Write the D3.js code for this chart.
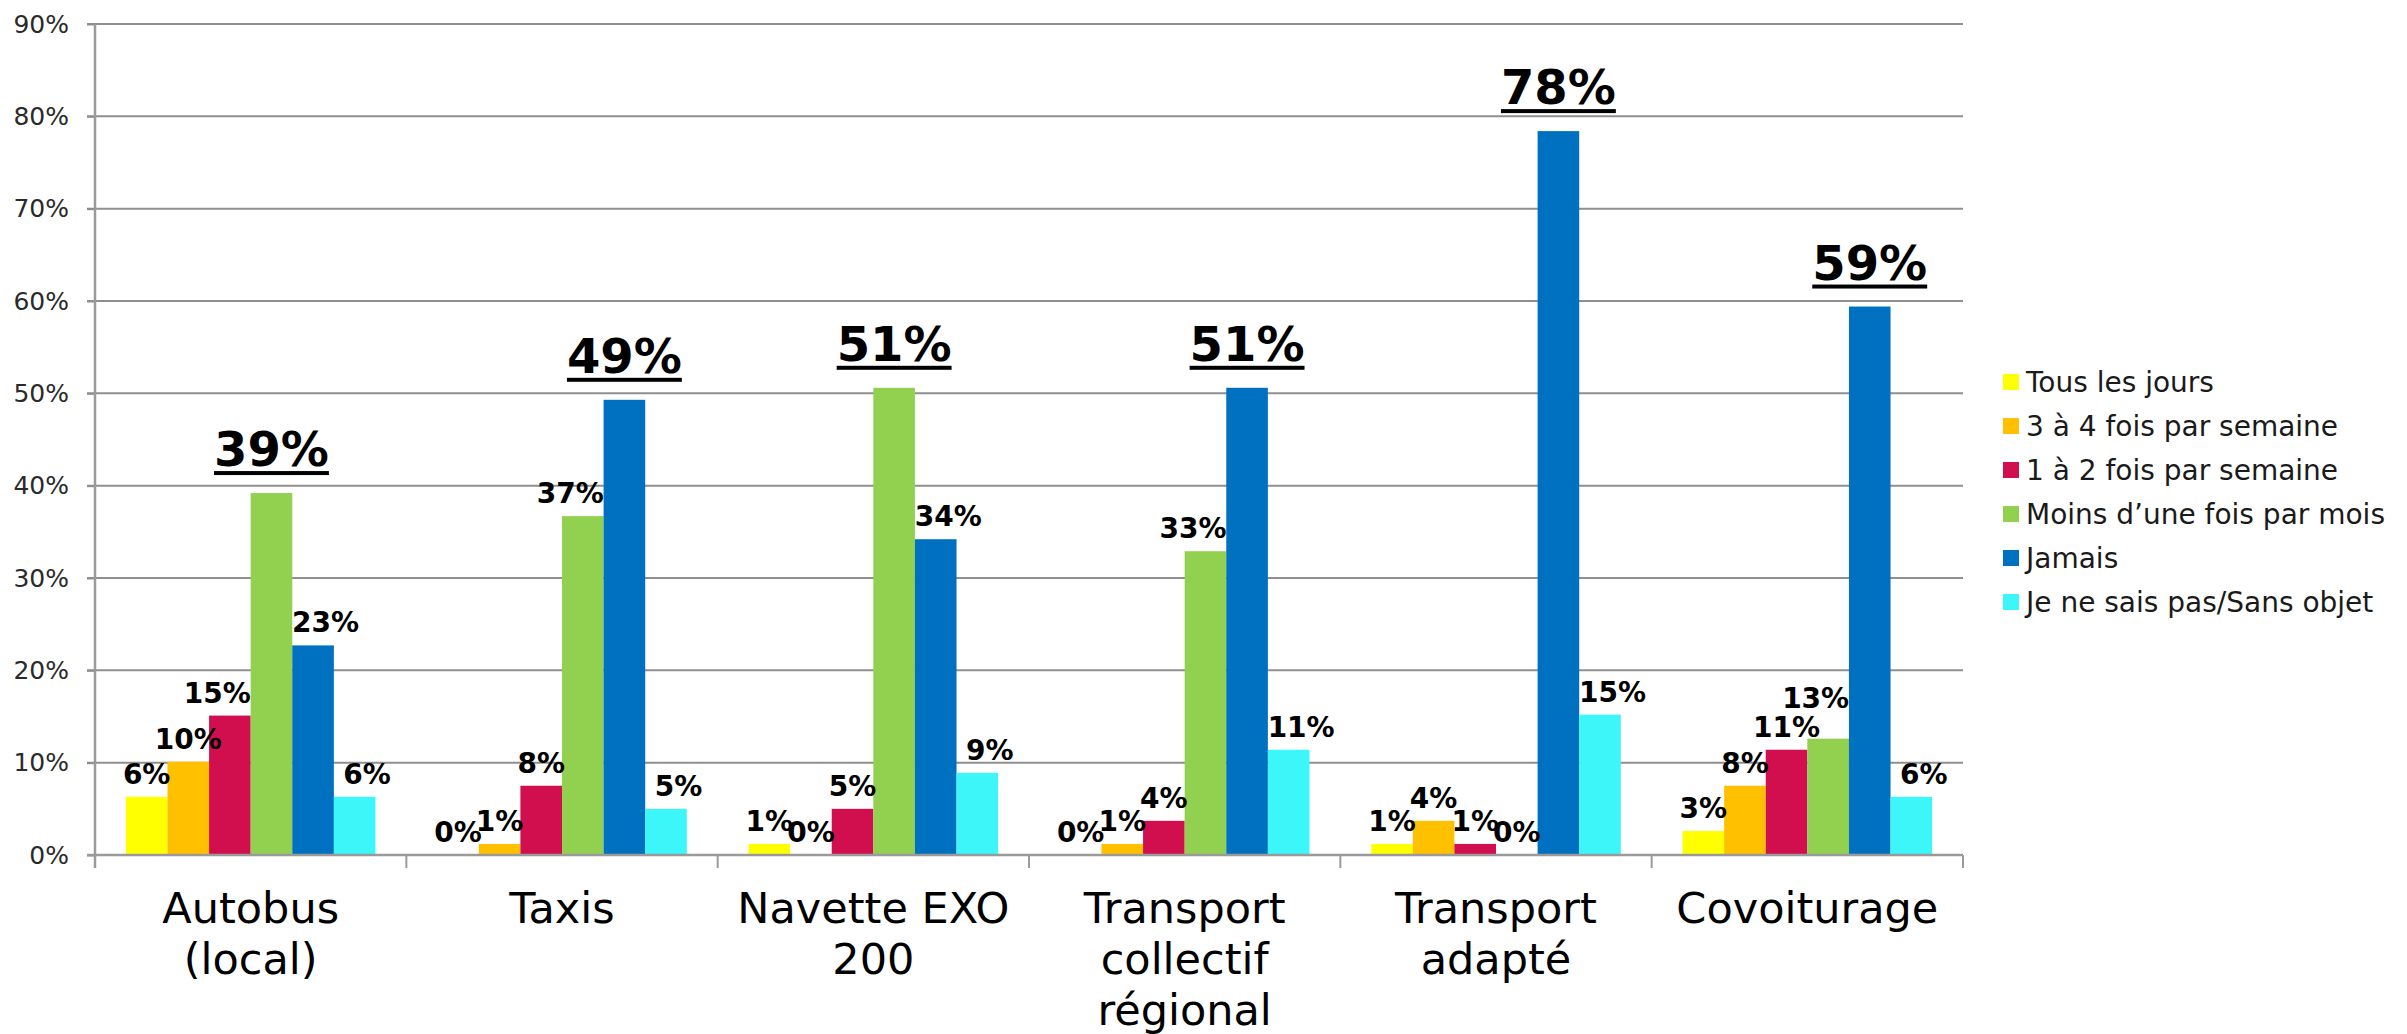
<!DOCTYPE html>
<html>
<head>
<meta charset="utf-8">
<script src="https://cdn.jsdelivr.net/npm/d3@7"></script>
<style>
  html, body { margin: 0; padding: 0; background: #fff; }
  svg { display: block; }
</style>
</head>
<body>
<svg id="chart" width="2407" height="1034"></svg>
<script>
// ---- Data ----
const categories = ["Autobus (local)", "Taxis", "Navette EXO 200", "Transport collectif régional", "Transport adapté", "Covoiturage"];
const seriesNames = ["Tous les jours", "3 à 4 fois par semaine", "1 à 2 fois par semaine", "Moins d’une fois par mois", "Jamais", "Je ne sais pas/Sans objet"];
const tousLesJours = [6.3, 0, 1.2, 0, 1.2, 2.6];
const troisAQuatre = [10.1, 1.2, 0, 1.2, 3.7, 7.5];
const unADeux     = [15.1, 7.5, 5.0, 3.7, 1.2, 11.4];
const moinsMois   = [39.2, 36.7, 50.6, 32.9, 0, 12.6];
const jamais      = [22.7, 49.3, 34.2, 50.6, 78.4, 59.4];
const nspSansObjet = [6.3, 5.0, 8.9, 11.4, 15.2, 6.3];
const seriesValues = [tousLesJours, troisAQuatre, unADeux, moinsMois, jamais, nspSansObjet];
const colors = ["#FFFF00", "#FFC000", "#D20F4E", "#92D050", "#0070C0", "#3DF6FA"];
const yTicks = [0, 10, 20, 30, 40, 50, 60, 70, 80, 90];

(function () {
// ---- Layout ----
const svg = d3.select("#chart");
const pL = 95, pR = 1963, pT = 24, pB = 855;
const FONT = "'DejaVu Sans', sans-serif";

const x0 = d3.scaleBand().domain(categories).range([pL, pR]).paddingInner(0).paddingOuter(0);
const x1 = d3.scaleBand().domain(seriesNames).range([0, x0.bandwidth()]).paddingInner(0).paddingOuter(0.742);
const y = d3.scaleLinear().domain([0, 90]).range([pB, pT]);

// gridlines
svg.append("g").selectAll("line").data(yTicks).join("line")
  .attr("x1", pL - 8).attr("x2", pR)
  .attr("y1", d => y(d)).attr("y2", d => y(d))
  .attr("stroke", "#8f8f8f").attr("stroke-width", 2);

// y axis
const yAxis = svg.append("g").attr("transform", `translate(${pL},0)`)
  .call(d3.axisLeft(y).tickValues(yTicks).tickFormat(d => d + "%").tickSize(8).tickPadding(18));
yAxis.select(".domain").remove();
yAxis.selectAll(".tick line").attr("stroke", "#8f8f8f").attr("stroke-width", 2);
yAxis.selectAll(".tick text").attr("font-family", FONT).attr("font-size", 25).attr("font-weight", 400)
  .attr("fill", "#2a2a2a");
svg.append("line").attr("x1", pL).attr("x2", pL).attr("y1", pT).attr("y2", pB + 13)
  .attr("stroke", "#9a9a9a").attr("stroke-width", 2.5);

// bars
const groups = svg.append("g").selectAll("g").data(categories).join("g")
  .attr("transform", c => `translate(${x0(c)},0)`);

groups.each(function(c, ci) {
  const g = d3.select(this);
  const vals = seriesValues.map(s => s[ci]);
  const maxV = d3.max(vals);
  const bw = x1.bandwidth();
  seriesNames.forEach((s, si) => {
    const v = vals[si];
    g.append("rect")
      .attr("x", x1(s)).attr("width", bw)
      .attr("y", y(v)).attr("height", y(0) - y(v))
      .attr("fill", colors[si]);
  });
  const placed = [];
  seriesNames.forEach((s, si) => {
    const v = vals[si];
    const cx = x1(s) + bw / 2;
    const label = Math.round(v) + "%";
    if (v === maxV) {
      const t = g.append("text")
        .attr("x", cx).attr("y", y(v) - 27)
        .attr("text-anchor", "middle")
        .attr("font-family", FONT).attr("font-weight", "bold").attr("font-size", 48)
        .attr("fill", "#000").text(label);
      const w = t.node().getComputedTextLength();
      g.append("rect").attr("x", cx - w / 2).attr("width", w)
        .attr("y", y(v) - 22).attr("height", 4).attr("fill", "#000");
    } else {
      const lv = si > 0 ? vals[si - 1] : -1;
      const rv = si < vals.length - 1 ? vals[si + 1] : -1;
      let dx = 0;
      if (lv > v + 8) dx = 0.3 * bw;
      else if (rv > v + 8 && label.length > 2) dx = -0.3 * bw;
      const fs = 28;
      const t = g.append("text")
        .attr("x", cx + dx)
        .attr("text-anchor", "middle")
        .attr("font-family", FONT).attr("font-weight", "bold").attr("font-size", fs)
        .attr("fill", "#000").text(label);
      const w = t.node().getComputedTextLength();
      let base = y(v) - 13;
      const x_a = cx + dx - w / 2, x_b = cx + dx + w / 2;
      placed.forEach(p => {
        const ov = Math.min(x_b, p.xb) - Math.max(x_a, p.xa);
        if (ov > 10 && base > p.top - 2 && base - 0.73 * fs < p.base) {
          base = p.top - 8;
        }
      });
      t.attr("y", base);
      placed.push({ xa: x_a, xb: x_b, base: base, top: base - 0.73 * fs });
    }
  });
});

// x axis baseline ticks at category boundaries
const bounds = categories.map(c => x0(c)).concat([pR]);
svg.append("g").selectAll("line").data(bounds).join("line")
  .attr("x1", d => d).attr("x2", d => d).attr("y1", pB).attr("y2", pB + 13)
  .attr("stroke", "#9a9a9a").attr("stroke-width", 2);
svg.append("line").attr("x1", pL - 8).attr("x2", pR).attr("y1", pB).attr("y2", pB)
  .attr("stroke", "#9a9a9a").attr("stroke-width", 2.5);

// category labels (wrapped)
const catG = svg.append("g");
categories.forEach(c => {
  const cx = x0(c) + x0.bandwidth() / 2;
  const words = c.split(" ");
  const t = catG.append("text").attr("text-anchor", "middle")
    .attr("font-family", FONT).attr("font-size", 43).attr("fill", "#000");
  let lines = [], cur = [];
  const probe = t.append("tspan");
  words.forEach(w => {
    const test = cur.concat([w]).join(" ");
    probe.text(test);
    if (probe.node().getComputedTextLength() > 300 && cur.length) {
      lines.push(cur.join(" ")); cur = [w];
    } else cur.push(w);
  });
  lines.push(cur.join(" "));
  probe.remove();
  lines.forEach((ln, i) => {
    t.append("tspan").attr("x", cx).attr("y", 923 + i * 51).text(ln);
  });
});

// legend
const legend = svg.append("g");
seriesNames.forEach((s, i) => {
  const cy = 382 + i * 44;
  legend.append("rect").attr("x", 2003).attr("y", cy - 8).attr("width", 16).attr("height", 16).attr("fill", colors[i]);
  legend.append("text").attr("x", 2026).attr("y", cy + 10)
    .attr("font-family", FONT).attr("font-size", 28).attr("fill", "#1a1a1a").text(s);
});
})();
</script>
</body>
</html>
